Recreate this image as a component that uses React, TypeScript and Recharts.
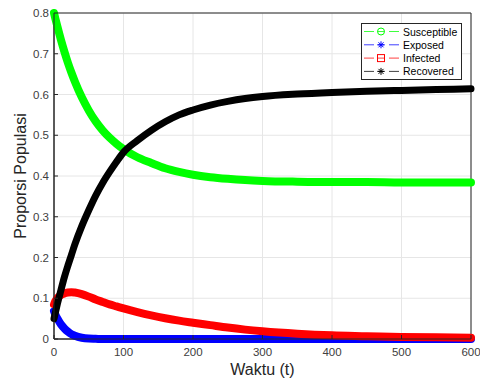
import { CartesianGrid, Label, Legend, Line, LineChart, ReferenceArea, XAxis, YAxis } from "recharts";

const timePoints = [0, 2, 5, 10, 15, 20, 25, 30, 40, 50, 60, 70, 80, 90, 100, 120, 140, 160, 180, 200, 225, 250, 275, 300, 350, 400, 450, 500, 550, 600];
const susceptible = [0.8, 0.786, 0.766, 0.734, 0.705, 0.678, 0.654, 0.632, 0.593, 0.561, 0.534, 0.512, 0.494, 0.479, 0.466, 0.446, 0.432, 0.419, 0.41, 0.403, 0.397, 0.393, 0.39, 0.388, 0.386, 0.385, 0.385, 0.384, 0.384, 0.384];
const exposed = [0.068, 0.06, 0.05, 0.036, 0.026, 0.018, 0.012, 0.008, 0.003, 0.001, 0.0005, 0, 0, 0, 0, 0, 0, 0, 0, 0, 0, 0, 0, 0, 0, 0, 0, 0, 0, 0];
const infected = [0.085, 0.093, 0.101, 0.108, 0.112, 0.114, 0.115, 0.114, 0.11, 0.104, 0.097, 0.091, 0.085, 0.08, 0.075, 0.066, 0.058, 0.051, 0.045, 0.04, 0.034, 0.028, 0.023, 0.019, 0.013, 0.009, 0.007, 0.005, 0.004, 0.003];
const recovered = [0.05, 0.065, 0.087, 0.12, 0.152, 0.18, 0.206, 0.232, 0.277, 0.316, 0.352, 0.383, 0.41, 0.435, 0.458, 0.487, 0.512, 0.533, 0.55, 0.562, 0.574, 0.583, 0.59, 0.595, 0.601, 0.605, 0.608, 0.61, 0.612, 0.614];

const xTicks = [0, 100, 200, 300, 400, 500, 600];
const yTicks = [0, 0.1, 0.2, 0.3, 0.4, 0.5, 0.6, 0.7, 0.8];

const seriesNames = ["Susceptible", "Exposed", "Infected", "Recovered"];
const seriesColors = ["#00ff00", "#0000ff", "#ff0000", "#000000"];
const seriesMarkers = ["circle", "star", "square", "star"];

const rows = timePoints.map((t, i) => ({
  t,
  S: susceptible[i],
  E: exposed[i],
  I: infected[i],
  R: recovered[i],
}));

const FONT = "'Liberation Sans', Arial, sans-serif";

function Marker({ kind, color, cx, cy }: { kind: string; color: string; cx: number; cy: number }) {
  if (kind === "circle") return <circle cx={cx} cy={cy} r={3.5} fill="none" stroke={color} strokeWidth={1} />;
  if (kind === "square") return <rect x={cx - 3.5} y={cy - 3.5} width={7} height={7} fill="none" stroke={color} strokeWidth={1} />;
  const r = 3.5;
  const d = 2.5;
  return (
    <g stroke={color} strokeWidth={1}>
      <line x1={cx - r} y1={cy} x2={cx + r} y2={cy} />
      <line x1={cx} y1={cy - r} x2={cx} y2={cy + r} />
      <line x1={cx - d} y1={cy - d} x2={cx + d} y2={cy + d} />
      <line x1={cx - d} y1={cy + d} x2={cx + d} y2={cy - d} />
    </g>
  );
}

function LegendBox() {
  return (
    <svg width={101} height={57} style={{ display: "block" }}>
      <rect x={0.5} y={0.5} width={100} height={56} fill="#fff" stroke="#262626" strokeWidth={1} />
      {seriesNames.map((name, i) => {
        const cy = 8.5 + i * 13.3;
        const color = seriesColors[i];
        return (
          <g key={name}>
            <line x1={3} y1={cy} x2={13} y2={cy} stroke={color} strokeWidth={1} opacity={0.75} />
            <line x1={28} y1={cy} x2={38} y2={cy} stroke={color} strokeWidth={1} opacity={0.75} />
            <line x1={16.5} y1={cy} x2={23.5} y2={cy} stroke={color} strokeWidth={1} opacity={0.75} />
            <Marker kind={seriesMarkers[i]} color={color} cx={20} cy={cy} />
            <text x={42} y={cy} dominantBaseline="central" fontSize={10.5} fill="#000" fontFamily={FONT}>
              {name}
            </text>
          </g>
        );
      })}
    </svg>
  );
}

export default function App() {
  return (
    <div style={{ position: "absolute", left: 0, top: 0, fontFamily: FONT, background: "#fff" }}>
      <LineChart width={480} height={385} data={rows} margin={{ top: 13, right: 9, bottom: 0, left: 0 }}>
        <CartesianGrid stroke="#e6e6e6" strokeWidth={1} />
        <XAxis
          dataKey="t"
          type="number"
          domain={[0, 600]}
          ticks={xTicks}
          height={46}
          tickSize={-4}
          tickMargin={13}
          tickLine={{ stroke: "#262626" }}
          axisLine={{ stroke: "#262626" }}
          tick={{ fill: "#404040", fontSize: 11.5, fontFamily: FONT }}
        >
          <Label
            content={({ viewBox }: any) => (
              <text x={viewBox.x + viewBox.width / 2} y={viewBox.y + 36} textAnchor="middle" fontSize={16} fill="#262626" fontFamily={FONT}>
                Waktu (t)
              </text>
            )}
          />
        </XAxis>
        <YAxis
          type="number"
          domain={[0, 0.8]}
          ticks={yTicks}
          width={54}
          tickSize={-4}
          tickMargin={9}
          tickLine={{ stroke: "#262626" }}
          axisLine={{ stroke: "#262626" }}
          tick={{ fill: "#404040", fontSize: 11.5, fontFamily: FONT }}
        >
          <Label
            content={({ viewBox }: any) => {
              const x = viewBox.x + 20;
              const y = viewBox.y + viewBox.height / 2;
              return (
                <text x={x} y={y} transform={`rotate(-90, ${x}, ${y})`} textAnchor="middle" dominantBaseline="central" fontSize={16} fill="#262626" fontFamily={FONT}>
                  Proporsi Populasi
                </text>
              );
            }}
          />
        </YAxis>
        <ReferenceArea x1={0} x2={600} y1={0} y2={0.8} fill="none" stroke="#262626" strokeWidth={1} />
        <Line dataKey="S" type="monotone" stroke={seriesColors[0]} strokeWidth={8} strokeLinecap="round" dot={false} isAnimationActive={false} />
        <Line dataKey="E" type="monotone" stroke={seriesColors[1]} strokeWidth={8} strokeLinecap="round" dot={false} isAnimationActive={false} />
        <Line dataKey="I" type="monotone" stroke={seriesColors[2]} strokeWidth={8} strokeLinecap="round" dot={false} isAnimationActive={false} />
        <Line dataKey="R" type="monotone" stroke={seriesColors[3]} strokeWidth={7} strokeLinecap="round" dot={false} isAnimationActive={false} />
        <Legend
          layout="horizontal"
          align="center"
          verticalAlign="middle"
          wrapperStyle={{ left: 361, top: 23, width: 101, height: 57 }}
          content={() => <LegendBox />}
        />
      </LineChart>
    </div>
  );
}
